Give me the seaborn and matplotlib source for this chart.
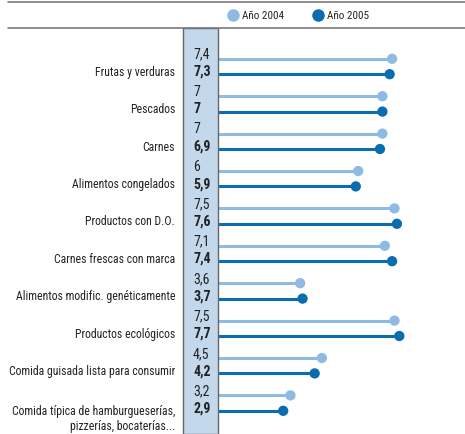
import matplotlib
matplotlib.use("Agg")
import matplotlib.pyplot as plt
from matplotlib import font_manager
from matplotlib.patches import Rectangle
from matplotlib.lines import Line2D
import seaborn as sns
import pandas as pd

categories = [
    "Frutas y verduras",
    "Pescados",
    "Carnes",
    "Alimentos congelados",
    "Productos con D.O.",
    "Carnes frescas con marca",
    "Alimentos modific. genéticamente",
    "Productos ecológicos",
    "Comida guisada lista para consumir",
    "Comida típica de hamburgueserías,\npizzerías, bocaterías...",
]
values_2004 = [7.4, 7.0, 7.0, 6.0, 7.5, 7.1, 3.6, 7.5, 4.5, 3.2]
values_2005 = [7.3, 7.0, 6.9, 5.9, 7.6, 7.4, 3.7, 7.7, 4.2, 2.9]
years = ["Año 2004", "Año 2005"]
colors = {"Año 2004": "#8fbbe2", "Año 2005": "#0a6db0"}

sns.set_theme(style="white")

# prefer a narrow sans face
ttf = font_manager.fontManager.ttflist
names = {f.name for f in ttf}
stretch = "normal"
family = "DejaVu Sans"
for cand in ("Roboto Condensed", "Liberation Sans Narrow", "Open Sans Condensed",
             "DejaVu Sans Condensed", "Noto Sans Condensed"):
    if cand in names:
        family = cand
        break
else:
    for f in ttf:
        if f.name == "DejaVu Sans" and str(f.stretch) in ("condensed", "semi-condensed"):
            stretch = "condensed"
            break
plt.rcParams["font.family"] = [family, "DejaVu Sans"]
plt.rcParams["font.stretch"] = stretch

W, H = 465, 434
fig = plt.figure(figsize=(W / 100, H / 100), dpi=100)
fig.patch.set_facecolor("white")

# data axes: x zero at 213 px, 24.2 px per unit; rows 37.4 px apart
px_left, px_top = 183, 28
ax = fig.add_axes([px_left / W, 0, (W - px_left) / W, (H - px_top) / H])
x0_px, ppu = 213, 24.2
ax.set_xlim(-(x0_px - px_left) / ppu, (W - x0_px) / ppu)
row0, pitch = 66.5, 37.4
ax.set_ylim((H - row0) / pitch, (px_top - row0) / pitch)
ax.axis("off")

off = 7.7 / pitch
rows = []
for i, c in enumerate(categories):
    rows.append({"cat": c, "year": years[0], "value": values_2004[i], "y": i - off})
    rows.append({"cat": c, "year": years[1], "value": values_2005[i], "y": i + off})
df = pd.DataFrame(rows)

for yr in years:
    d = df[df.year == yr]
    ax.hlines(d["y"], 0, d["value"], color=colors[yr], lw=2.2, zorder=2)
sns.scatterplot(data=df, x="value", y="y", hue="year", palette=colors,
                s=55, edgecolor="none", legend=False, ax=ax, zorder=3)

# value column
box_right = (218 - x0_px) / ppu
xl, yl = ax.get_xlim(), ax.get_ylim()
ax.add_patch(Rectangle((xl[0], yl[1]), box_right - xl[0], yl[0] - yl[1],
                       facecolor="#c4d8ec", edgecolor="#666666", lw=1.0,
                       zorder=4, clip_on=False))

text_x = (193 - x0_px) / ppu
for _, r in df.iterrows():
    lbl = f"{r['value']:g}".replace(".", ",")
    bold = r["year"] == years[1]
    ax.text(text_x, r["y"] - (0.06 if bold else 0.11), lbl, ha="left", va="center",
            fontsize=10, color="#222222",
            fontweight="bold" if bold else "normal", zorder=5)

label_x = (175 - x0_px) / ppu
for i, c in enumerate(categories):
    if "\n" in c:
        ax.text(label_x, i + off - 0.16, c, ha="right", va="top", fontsize=8.5,
                color="#222222", linespacing=1.25, zorder=5, multialignment="right")
    else:
        ax.text(label_x, i + off - 0.05, c, ha="right", va="center", fontsize=8.5,
                color="#222222", zorder=5)

# header rules and legend
for yp in (2, 28):
    fig.add_artist(Line2D([8 / W, 1], [1 - yp / H] * 2, color="#7a7a7a", lw=1.2))
handles = [Line2D([], [], marker="o", ls="", markersize=8, color=colors[y]) for y in years]
fig.legend(handles, years, loc="center", bbox_to_anchor=(298 / W, 1 - 16 / H),
           ncol=2, frameon=False, fontsize=8, handletextpad=0.3,
           columnspacing=2.6, handlelength=1.0)

fig.savefig("out.png", dpi=100, facecolor="white")
